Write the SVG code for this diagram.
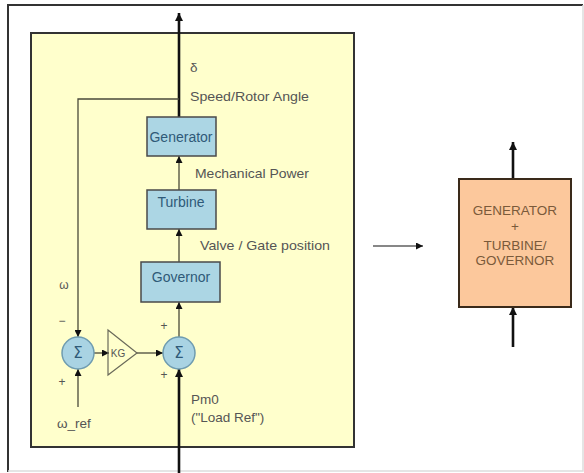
<svg xmlns="http://www.w3.org/2000/svg" width="584" height="473" viewBox="0 0 584 473">
<defs>
<marker id="ah" viewBox="0 0 10 10" refX="10" refY="5" markerWidth="7" markerHeight="7" markerUnits="userSpaceOnUse" orient="auto"><path d="M0,0 L10,5 L0,10 z" fill="#111"/></marker>
<marker id="ahb" viewBox="0 0 10 10" refX="10" refY="5" markerWidth="8" markerHeight="8" markerUnits="userSpaceOnUse" orient="auto"><path d="M0,0 L10,5 L0,10 z" fill="#111"/></marker>
<style>
.lbl{font-family:"Liberation Sans",Arial,sans-serif;font-size:13.5px;fill:#555}
.box{fill:#acd6e4;stroke:#4a4a4a;stroke-width:1.5}
.btx{font-family:"Liberation Sans",Arial,sans-serif;font-size:14px;fill:#2f5a78;text-anchor:middle}
.sum{fill:#a9d3e3;stroke:#6f9cb0;stroke-width:1.5}
.sig{font-family:"DejaVu Sans",sans-serif;font-size:15px;fill:#2f5a78;text-anchor:middle}
.thin{stroke:#4a4a3a;stroke-width:1.3;fill:none}
.thick{stroke:#111;stroke-width:2.6;fill:none}
.sgn{font-family:"Liberation Sans",Arial,sans-serif;font-size:12px;fill:#555;text-anchor:middle}
.otx{font-family:"Liberation Sans",Arial,sans-serif;font-size:13.5px;fill:#7a5a3a;text-anchor:middle}
</style>
</defs>
<rect x="0" y="0" width="584" height="473" fill="#fff"/>
<g id="frame">
<path d="M8,472 L8,5 L583,5" fill="none" stroke="#333" stroke-width="2"/>
<path d="M583,5 L583,471 L8,471" fill="none" stroke="#ddd" stroke-width="1.5"/>
</g>
<g id="model">
<rect x="31" y="33" width="323" height="414" fill="#ffffcc" stroke="#333" stroke-width="2"/>
</g>
<g id="connectors">
<path class="thick" d="M179,117 L179,13" marker-end="url(#ahb)"/>
<path class="thick" d="M179,473 L179,369" marker-end="url(#ahb)"/>
<path class="thin" d="M179,190 L179,156" marker-end="url(#ah)"/>
<path class="thin" d="M179,262 L179,229" marker-end="url(#ah)"/>
<path class="thin" d="M179,337 L179,302" marker-end="url(#ah)"/>
<path class="thin" d="M179,99 L78,99 L78,337" marker-end="url(#ah)"/>
<path class="thin" d="M78,407 L78,369" marker-end="url(#ah)"/>
<path class="thin" d="M94,353 L109,353" marker-end="url(#ah)"/>
<path class="thin" d="M137,353 L163,353" marker-end="url(#ah)"/>
<path d="M373,246 L423,246" stroke="#111" stroke-width="1.2" fill="none" marker-end="url(#ah)"/>
<path class="thick" d="M513,179 L513,142" marker-end="url(#ahb)"/>
<path class="thick" d="M513,347 L513,307" marker-end="url(#ahb)"/>
</g>
<g id="generator">
<rect class="box" x="147" y="117" width="69" height="39"/>
<text class="btx" x="181" y="142">Generator</text>
</g>
<g id="turbine">
<rect class="box" x="147" y="190" width="69" height="39"/>
<text class="btx" x="181" y="207">Turbine</text>
</g>
<g id="governor">
<rect class="box" x="141" y="262" width="79" height="40"/>
<text class="btx" x="181" y="282">Governor</text>
</g>
<g id="sum1">
<circle class="sum" cx="78" cy="353" r="16"/>
<text class="sig" x="78" y="358">Σ</text>
</g>
<g id="gain">
<path d="M108,330 L137,353 L108,375 z" fill="none" stroke="#6a6a5a" stroke-width="1.2"/>
<text x="118" y="357" font-family="Liberation Sans, Arial, sans-serif" font-size="10" fill="#555" text-anchor="middle">KG</text>
</g>
<g id="sum2">
<circle class="sum" cx="179" cy="353" r="16"/>
<text class="sig" x="179" y="358">Σ</text>
</g>
<g id="labels">
<text class="lbl" x="190" y="72">δ</text>
<text class="lbl" x="190" y="101" textLength="119" lengthAdjust="spacingAndGlyphs">Speed/Rotor Angle</text>
<text class="lbl" x="195" y="178" textLength="114" lengthAdjust="spacingAndGlyphs">Mechanical Power</text>
<text class="lbl" x="200" y="250" textLength="130" lengthAdjust="spacingAndGlyphs">Valve / Gate position</text>
<text class="sgn" x="64" y="289">ω</text>
<text class="sgn" x="62" y="325">−</text>
<text class="sgn" x="62" y="386">+</text>
<text class="sgn" x="164" y="330">+</text>
<text class="sgn" x="164" y="379">+</text>
<text class="lbl" x="57" y="428" font-size="12">ω_ref</text>
<text class="lbl" x="191" y="404">Pm0</text>
<text class="lbl" x="191" y="422">("Load Ref")</text>
</g>
<g id="combined">
<rect x="459" y="179" width="112" height="128" fill="#fcc89c" stroke="#3a2a1a" stroke-width="2"/>
<text class="otx" x="515" y="215">GENERATOR</text>
<text class="otx" x="515" y="231">+</text>
<text class="otx" x="515" y="250">TURBINE/</text>
<text class="otx" x="515" y="265">GOVERNOR</text>
</g>
</svg>
